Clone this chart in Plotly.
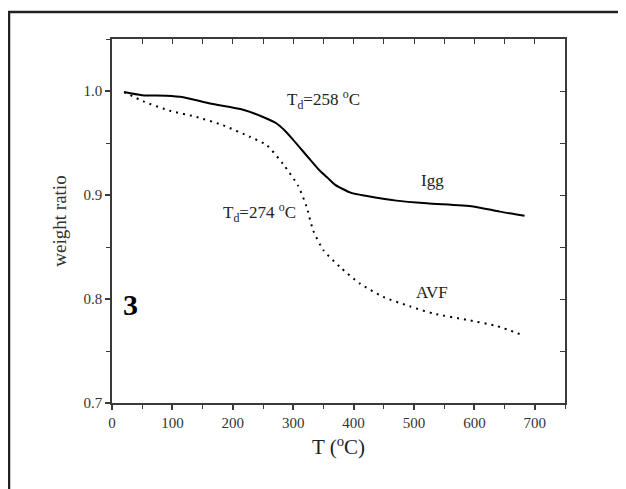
import plotly.graph_objects as go

# Data
igg_T = [20, 50, 90, 118, 162, 217, 250, 272, 286, 300, 328, 343, 358, 369, 396, 422, 471, 521, 598, 642, 683]
igg_w = [0.999, 0.996, 0.9955, 0.994, 0.988, 0.982, 0.975, 0.969, 0.962, 0.953, 0.934, 0.924, 0.916, 0.910, 0.902, 0.899, 0.8946, 0.892, 0.889, 0.884, 0.880]

avf_T = [20, 52, 96, 140, 184, 228, 256, 283, 308, 322, 333, 350, 377, 410, 449, 493, 532, 587, 637, 681]
avf_w = [0.999, 0.990, 0.981, 0.975, 0.967, 0.956, 0.948, 0.930, 0.909, 0.889, 0.866, 0.847, 0.831, 0.815, 0.802, 0.793, 0.786, 0.780, 0.774, 0.765]

x_ticks = [0, 100, 200, 300, 400, 500, 600, 700]
y_ticks = [0.7, 0.8, 0.9, 1.0]

FONT = "Liberation Serif, Times New Roman, serif"
AX = "#3a3a3a"

fig = go.Figure()
fig.add_trace(go.Scatter(x=igg_T, y=igg_w, mode="lines", line=dict(color="black", width=2, shape="spline", smoothing=0.7),
                         showlegend=False, hoverinfo="skip"))
fig.add_trace(go.Scatter(x=avf_T, y=avf_w, mode="lines", line=dict(color="black", width=2, dash="2px,5px", shape="spline", smoothing=0.6),
                         showlegend=False, hoverinfo="skip"))
# invisible trace to activate mirror axes
fig.add_trace(go.Scatter(x=[None], y=[None], xaxis="x2", yaxis="y2", showlegend=False, hoverinfo="skip"))

axis_common = dict(showgrid=False, zeroline=False, showline=True, linecolor=AX, linewidth=1.5)

W, H = 618, 481
fig.update_layout(
    width=W, height=H,
    margin=dict(l=104, r=61, t=31, b=86),
    paper_bgcolor="white", plot_bgcolor="white",
    font=dict(family=FONT, color="#333"),
    xaxis=dict(range=[0, 750], tickvals=x_ticks, ticktext=[str(v) for v in x_ticks],
               ticks="outside", ticklen=5, tickwidth=1.5, tickcolor=AX,
               minor=dict(dtick=50, tick0=0, ticks="outside", ticklen=4, tickwidth=1.2, tickcolor=AX),
               tickfont=dict(size=15, family=FONT, color="#333"),
               title=dict(text="T (<sup>o</sup>C)", font=dict(size=21, family=FONT, color="#222"), standoff=10),
               **axis_common),
    yaxis=dict(range=[0.7, 1.05], tickvals=y_ticks, ticktext=[f"{v:.1f}" for v in y_ticks],
               ticks="outside", ticklen=5, tickwidth=1.5, tickcolor=AX,
               minor=dict(dtick=0.05, tick0=0.7, ticks="outside", ticklen=4, tickwidth=1.2, tickcolor=AX),
               tickfont=dict(size=15, family=FONT, color="#333"),
               title=dict(text="weight ratio", font=dict(size=19, family=FONT, color="#333"), standoff=12),
               **axis_common),
    xaxis2=dict(range=[0, 750], overlaying="x", side="top", tickvals=list(range(0, 751, 50)),
                showticklabels=False, ticks="inside", ticklen=5, tickwidth=1.3, tickcolor=AX, **axis_common),
    yaxis2=dict(range=[0.7, 1.05], overlaying="y", side="right", tickvals=[0.7, 0.75, 0.8, 0.85, 0.9, 0.95, 1.0],
                showticklabels=False, ticks="inside", ticklen=5, tickwidth=1.3, tickcolor=AX, **axis_common),
)

# Annotations
ann = dict(showarrow=False, font=dict(family=FONT, size=17, color="#222"), xref="x", yref="y")
fig.add_annotation(x=350, y=0.992, text="T<sub>d</sub>=258 <sup>o</sup>C", **ann)
fig.add_annotation(x=245, y=0.883, text="T<sub>d</sub>=274 <sup>o</sup>C", **ann)
fig.add_annotation(x=530, y=0.914, text="Igg", **ann)
fig.add_annotation(x=530, y=0.806, text="AVF", **ann)
fig.add_annotation(x=30, y=0.795, text="<b>3</b>", showarrow=False, xref="x", yref="y",
                   font=dict(family=FONT, size=30, color="black"))

# Outer frame (left and top edges only)
pl, pt = 104, 31
pw, ph = 453, 364
x_left = (1 - pl) / pw
x_right = (W + 20 - pl) / pw
y_top = (pt + ph - 4) / ph
y_bot = (pt + ph - (H + 20)) / ph
fig.add_shape(type="path", xref="paper", yref="paper",
              path=f"M {x_left} {y_bot} L {x_left} {y_top} L {x_right} {y_top}",
              line=dict(color="#222", width=2.5))

fig.write_html("out.html")
